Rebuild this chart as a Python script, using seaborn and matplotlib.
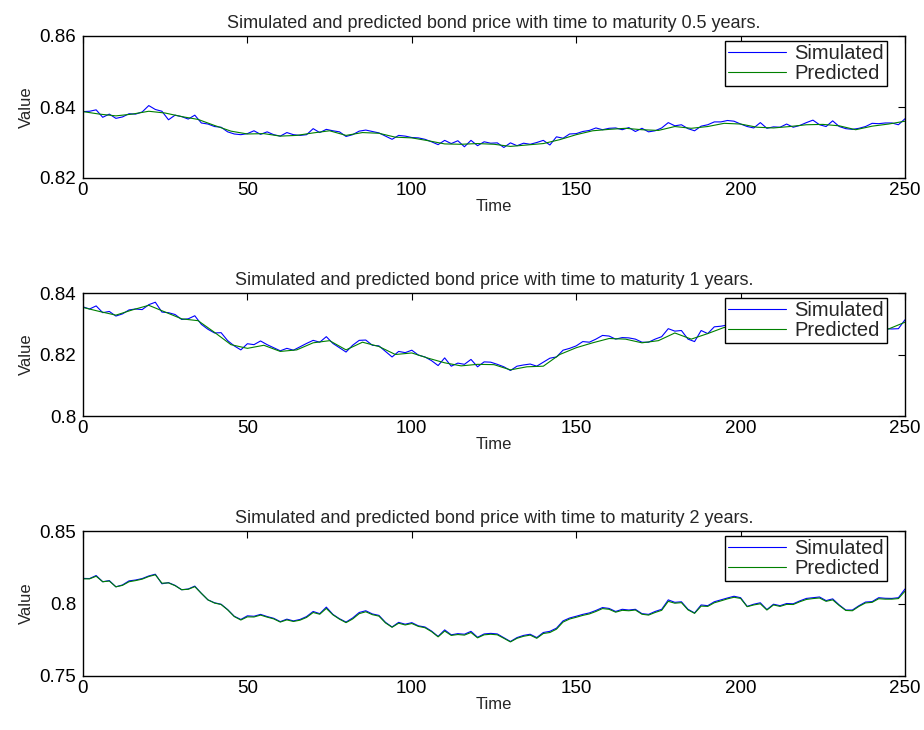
import numpy as np
import matplotlib
matplotlib.use("Agg")
import matplotlib.pyplot as plt
import seaborn as sns
from matplotlib.ticker import FormatStrFormatter

# data, time grid step 2 (simulated) / step 5 (predicted where smooth)
sim_time = np.arange(0, 251, 2)
pred_time_coarse = np.arange(0, 251, 5)

sim_05 = [
    0.8387, 0.8388, 0.8392, 0.8371, 0.8380, 0.8368, 0.8372, 0.8381, 0.8380, 0.8386,
    0.8404, 0.8393, 0.8388, 0.8364, 0.8377, 0.8373, 0.8366, 0.8377, 0.8355, 0.8352,
    0.8345, 0.8343, 0.8330, 0.8324, 0.8322, 0.8325, 0.8333, 0.8323, 0.8330, 0.8322,
    0.8318, 0.8328, 0.8322, 0.8320, 0.8322, 0.8339, 0.8328, 0.8337, 0.8333, 0.8330,
    0.8317, 0.8322, 0.8332, 0.8335, 0.8331, 0.8327, 0.8318, 0.8309, 0.8320, 0.8318,
    0.8314, 0.8313, 0.8309, 0.8302, 0.8294, 0.8306, 0.8297, 0.8305, 0.8288, 0.8306,
    0.8291, 0.8302, 0.8298, 0.8299, 0.8286, 0.8299, 0.8291, 0.8298, 0.8295, 0.8300,
    0.8306, 0.8293, 0.8316, 0.8312, 0.8324, 0.8325, 0.8331, 0.8334, 0.8341, 0.8336,
    0.8340, 0.8341, 0.8336, 0.8342, 0.8331, 0.8340, 0.8330, 0.8333, 0.8341, 0.8356,
    0.8347, 0.8350, 0.8339, 0.8333, 0.8346, 0.8350, 0.8358, 0.8358, 0.8362, 0.8360,
    0.8352, 0.8345, 0.8341, 0.8356, 0.8340, 0.8344, 0.8343, 0.8352, 0.8343, 0.8348,
    0.8356, 0.8363, 0.8350, 0.8345, 0.8361, 0.8345, 0.8339, 0.8337, 0.8340, 0.8345,
    0.8354, 0.8353, 0.8355, 0.8355, 0.8350, 0.8367,
]
pred_05 = [
    0.8387, 0.8380, 0.8375, 0.8380, 0.8388, 0.8383, 0.8373, 0.8365, 0.8348, 0.8332,
    0.8324, 0.8325, 0.8318, 0.8320, 0.8327, 0.8333, 0.8320, 0.8328, 0.8326, 0.8315,
    0.8313, 0.8305, 0.8296, 0.8295, 0.8297, 0.8295, 0.8289, 0.8293, 0.8297, 0.8308,
    0.8322, 0.8333, 0.8337, 0.8340, 0.8336, 0.8334, 0.8345, 0.8340, 0.8345, 0.8354,
    0.8352, 0.8343, 0.8341, 0.8345, 0.8350, 0.8351, 0.8347, 0.8336, 0.8346, 0.8352,
    0.8360,
]

sim_1 = [
    0.8355, 0.8348, 0.8358, 0.8336, 0.8340, 0.8325, 0.8332, 0.8345, 0.8348, 0.8346,
    0.8362, 0.8370, 0.8338, 0.8336, 0.8330, 0.8314, 0.8316, 0.8326, 0.8298, 0.8282,
    0.8270, 0.8271, 0.8245, 0.8228, 0.8215, 0.8235, 0.8232, 0.8244, 0.8232, 0.8222,
    0.8212, 0.8220, 0.8214, 0.8225, 0.8236, 0.8246, 0.8240, 0.8258, 0.8236, 0.8222,
    0.8208, 0.8230, 0.8246, 0.8247, 0.8230, 0.8228, 0.8210, 0.8192, 0.8210, 0.8206,
    0.8214, 0.8198, 0.8192, 0.8180, 0.8164, 0.8189, 0.8162, 0.8172, 0.8168, 0.8184,
    0.8160, 0.8176, 0.8175, 0.8168, 0.8160, 0.8148, 0.8162, 0.8166, 0.8169, 0.8162,
    0.8175, 0.8188, 0.8192, 0.8214, 0.8220, 0.8228, 0.8242, 0.8240, 0.8250, 0.8262,
    0.8260, 0.8250, 0.8255, 0.8254, 0.8250, 0.8240, 0.8240, 0.8250, 0.8258, 0.8284,
    0.8276, 0.8278, 0.8250, 0.8242, 0.8278, 0.8268, 0.8290, 0.8292, 0.8296, 0.8294,
    0.8288, 0.8278, 0.8272, 0.8290, 0.8276, 0.8280, 0.8279, 0.8290, 0.8280, 0.8286,
    0.8294, 0.8300, 0.8288, 0.8282, 0.8296, 0.8282, 0.8276, 0.8272, 0.8274, 0.8278,
    0.8285, 0.8284, 0.8284, 0.8283, 0.8284, 0.8313,
]
pred_1 = [
    0.8353, 0.8340, 0.8328, 0.8345, 0.8360, 0.8338, 0.8316, 0.8310, 0.8272, 0.8232,
    0.8220, 0.8230, 0.8210, 0.8215, 0.8238, 0.8245, 0.8215, 0.8240, 0.8226, 0.8200,
    0.8205, 0.8188, 0.8173, 0.8163, 0.8168, 0.8167, 0.8150, 0.8160, 0.8162, 0.8200,
    0.8222, 0.8238, 0.8252, 0.8250, 0.8238, 0.8245, 0.8270, 0.8250, 0.8268, 0.8288,
    0.8285, 0.8276, 0.8276, 0.8283, 0.8290, 0.8288, 0.8283, 0.8270, 0.8280, 0.8283,
    0.8305,
]

sim_2 = [
    0.8173, 0.8172, 0.8193, 0.8150, 0.8158, 0.8115, 0.8128, 0.8156, 0.8162, 0.8172,
    0.8190, 0.8202, 0.8136, 0.8144, 0.8125, 0.8095, 0.8100, 0.8120, 0.8070, 0.8025,
    0.8005, 0.7995, 0.7958, 0.7912, 0.7890, 0.7915, 0.7912, 0.7925, 0.7910, 0.7898,
    0.7875, 0.7892, 0.7880, 0.7890, 0.7910, 0.7945, 0.7930, 0.7975, 0.7925, 0.7895,
    0.7872, 0.7900, 0.7938, 0.7950, 0.7928, 0.7918, 0.7870, 0.7838, 0.7870, 0.7857,
    0.7868, 0.7846, 0.7838, 0.7810, 0.7773, 0.7818, 0.7784, 0.7792, 0.7788, 0.7808,
    0.7767, 0.7790, 0.7794, 0.7790, 0.7764, 0.7738, 0.7765, 0.7780, 0.7788, 0.7765,
    0.7800, 0.7808, 0.7830, 0.7880, 0.7900, 0.7912, 0.7925, 0.7935, 0.7952, 0.7972,
    0.7966, 0.7945, 0.7960, 0.7955, 0.7960, 0.7930, 0.7925, 0.7945, 0.7960, 0.8025,
    0.8008, 0.8012, 0.7960, 0.7935, 0.7990, 0.7985, 0.8012, 0.8025, 0.8038, 0.8050,
    0.8040, 0.7980, 0.7995, 0.8005, 0.7958, 0.7995, 0.7985, 0.8000, 0.7998, 0.8018,
    0.8035, 0.8040, 0.8045, 0.8020, 0.8032, 0.7990, 0.7955, 0.7955, 0.7985, 0.8010,
    0.8013, 0.8040, 0.8036, 0.8035, 0.8040, 0.8100,
]
pred_2 = [
    0.8170, 0.8170, 0.8188, 0.8150, 0.8155, 0.8115, 0.8125, 0.8150, 0.8158, 0.8168,
    0.8186, 0.8198, 0.8140, 0.8142, 0.8123, 0.8095, 0.8098, 0.8116, 0.8070, 0.8025,
    0.8003, 0.7993, 0.7956, 0.7910, 0.7886, 0.7908, 0.7907, 0.7920, 0.7906, 0.7894,
    0.7872, 0.7887, 0.7876, 0.7885, 0.7904, 0.7938, 0.7926, 0.7966, 0.7922, 0.7892,
    0.7868, 0.7893, 0.7930, 0.7943, 0.7923, 0.7913, 0.7866, 0.7836, 0.7864, 0.7852,
    0.7862, 0.7842, 0.7833, 0.7806, 0.7770, 0.7810, 0.7780, 0.7786, 0.7782, 0.7800,
    0.7763, 0.7784, 0.7788, 0.7784, 0.7760, 0.7735, 0.7760, 0.7774, 0.7782, 0.7760,
    0.7793, 0.7800, 0.7823, 0.7872, 0.7893, 0.7905, 0.7918, 0.7928, 0.7945, 0.7965,
    0.7960, 0.7940, 0.7953, 0.7950, 0.7955, 0.7926, 0.7920, 0.7938, 0.7953, 0.8015,
    0.8002, 0.8006, 0.7956, 0.7932, 0.7982, 0.7980, 0.8005, 0.8018, 0.8032, 0.8043,
    0.8035, 0.7978, 0.7990, 0.7998, 0.7955, 0.7990, 0.7980, 0.7994, 0.7993, 0.8012,
    0.8028, 0.8034, 0.8038, 0.8015, 0.8025, 0.7986, 0.7952, 0.7950, 0.7980, 0.8004,
    0.8008, 0.8033, 0.8030, 0.8030, 0.8034, 0.8085,
]

maturities = ["0.5", "1", "2"]
ylims = [(0.82, 0.86), (0.80, 0.84), (0.75, 0.85)]
yticks = [[0.82, 0.84, 0.86], [0.80, 0.82, 0.84], [0.75, 0.80, 0.85]]

sns.set_style("white")
plt.rcParams["font.family"] = ["Liberation Sans", "DejaVu Sans"]

fig = plt.figure(figsize=(9.24, 7.30), dpi=100)
# axes boxes in pixels: (top, bottom); left 83, right 905
W, H = 924.0, 730.0
rows = [(36, 178), (293, 416), (531, 676)]
panels = [
    (sim_05, pred_time_coarse, pred_05),
    (sim_1, pred_time_coarse, pred_1),
    (sim_2, sim_time, pred_2),
]

for i, (sim, ptime, pred) in enumerate(panels):
    top, bot = rows[i]
    ax = fig.add_axes([83 / W, 1 - bot / H, 822 / W, (bot - top) / H])
    sns.lineplot(x=sim_time, y=sim, ax=ax, color="#0000ff", lw=0.8, label="Simulated")
    sns.lineplot(x=ptime, y=pred, ax=ax, color="#008000", lw=0.8, label="Predicted")
    ax.set_xlim(0, 250)
    ax.set_ylim(*ylims[i])
    ax.set_xticks([0, 50, 100, 150, 200, 250])
    ax.set_yticks(yticks[i])
    ax.yaxis.set_major_formatter(FormatStrFormatter("%g"))
    ax.tick_params(direction="in", top=True, right=True, length=5, width=0.8,
                   labelsize=13.5, colors="black")
    ax.tick_params(axis="x", pad=3)
    ax.tick_params(axis="y", pad=5)
    for s in ax.spines.values():
        s.set_color("black")
        s.set_linewidth(1.0)
    ax.set_xlabel("Time", fontsize=12, labelpad=0)
    ax.set_ylabel("Value", fontsize=12, labelpad=4)
    ax.set_title("Simulated and predicted bond price with time to maturity %s years." % maturities[i],
                 fontsize=13, pad=6)
    leg = ax.legend(loc="upper right", bbox_to_anchor=(1 - 18 / 822, 1 - 5 / (bot - top)),
                    borderaxespad=0, fontsize=14.5, frameon=True, fancybox=False,
                    edgecolor="black", framealpha=1, borderpad=0.15, handlelength=2.9,
                    handletextpad=0.4, labelspacing=0.05)
    leg.get_frame().set_linewidth(1.0)

fig.savefig("out.png", dpi=100)
